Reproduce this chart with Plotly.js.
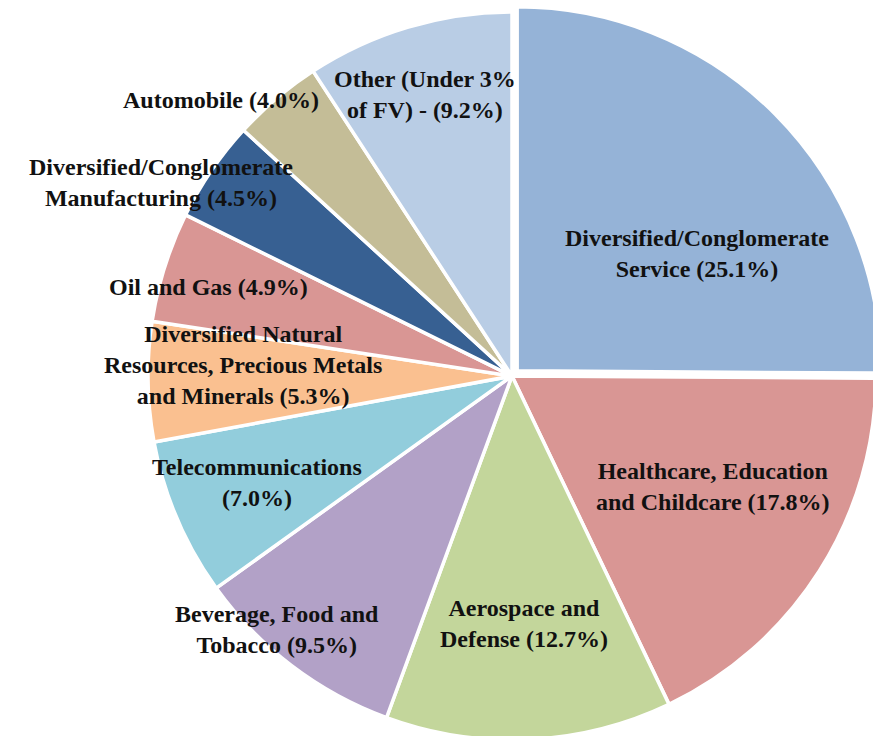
<!DOCTYPE html>
<html>
<head>
<meta charset="utf-8">
<script src="https://cdn.plot.ly/plotly-3.0.1.min.js"></script>
<style>
html, body { margin: 0; padding: 0; overflow: hidden; background: #fff; }
#chart { width: 900px; height: 752px; }
</style>
</head>
<body>
<div id="chart"></div>
<script>
// ---- data ----
const categories = [
  "Diversified/Conglomerate<br>Service",
  "Healthcare, Education<br>and Childcare",
  "Aerospace and<br>Defense",
  "Beverage, Food and<br>Tobacco",
  "Telecommunications<br>",
  "Diversified Natural<br>Resources, Precious Metals<br>and Minerals",
  "Oil and Gas",
  "Diversified/Conglomerate<br>Manufacturing",
  "Automobile",
  "Other (Under 3%<br>of FV) -"
];
const values = [25.1, 17.8, 12.7, 9.5, 7.0, 5.3, 4.9, 4.5, 4.0, 9.2];
const colors = ["#95B3D7", "#D99694", "#C3D69B", "#B2A1C7", "#92CDDC",
                "#FAC090", "#D99694", "#376092", "#C4BD97", "#B9CDE5"];

// ---- label placement style (radius fraction, angle offset in degrees) ----
const labelR  = [0.61, 0.63, 0.68, 0.95, 0.76, 0.74, 0.87, 1.10, 1.10, 0.81];
const labelDA = [11.4, -3.6, -0.1, 5.5, 0.3, 3.2, -1.1, -5.5, -6.2, -0.6];

// ---- geometry ----
const W = 900, H = 752;
const cxPx = 512, cyPx = 376, rPx = 364;
const pull = 0.02;
const box = rPx * (2 + 2 * pull);
const xd = [(cxPx - box / 2) / W, (cxPx + box / 2) / W];
const yd = [0.5 - box / 2 / H, 0.5 + box / 2 / H];

const total = values.reduce((a, b) => a + b, 0);
const annotations = [];
let cum = 0;
values.forEach((v, i) => {
  const mid = (cum + v / 2) / total * 360 + labelDA[i];
  cum += v;
  const th = mid * Math.PI / 180;
  const px = cxPx + rPx * labelR[i] * Math.sin(th);
  const py = cyPx - rPx * labelR[i] * Math.cos(th);
  const pct = "(" + v.toFixed(1) + "%)";
  const txt = categories[i] + (i === 4 ? "" : " ") + pct;
  annotations.push({
    xref: "paper", yref: "paper",
    x: px / W, y: 1 - py / H,
    xanchor: "center", yanchor: "middle",
    text: txt, showarrow: false, align: "center",
    font: { family: "Liberation Serif, Times New Roman, serif", size: 24, color: "#111", weight: "bold" }
  });
});

const trace = {
  type: "pie",
  values: values,
  labels: categories,
  marker: { colors: colors, line: { color: "#ffffff", width: 3.5 } },
  sort: false,
  direction: "clockwise",
  rotation: 0,
  pull: values.map((v, i) => i === 0 ? pull : 0),
  textinfo: "none",
  hoverinfo: "skip",
  domain: { x: xd, y: yd },
  showlegend: false
};

const layout = {
  width: W, height: H,
  margin: { l: 0, r: 0, t: 0, b: 0 },
  paper_bgcolor: "#ffffff",
  showlegend: false,
  annotations: annotations
};

Plotly.newPlot("chart", [trace], layout, { staticPlot: true, displayModeBar: false });
</script>
</body>
</html>
